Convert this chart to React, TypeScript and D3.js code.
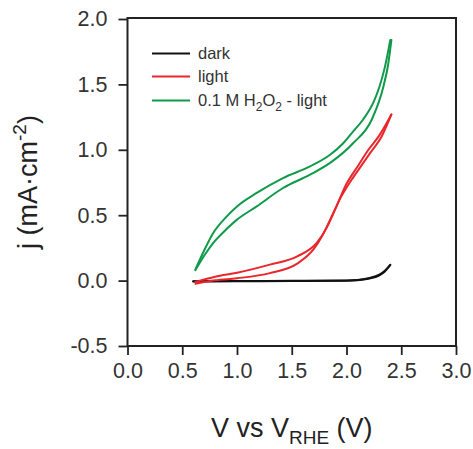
import * as d3 from 'd3';
import React, { useEffect, useRef } from 'react';

// each scan split into its two branches, [V, j], V ascending
const darkForward = [
  [0.6, -0.005], [1.0, -0.003], [1.5, -0.002], [2.0, 0.0], [2.1, 0.004],
  [2.2, 0.018], [2.3, 0.045], [2.35, 0.075], [2.4, 0.12],
];
const darkReverse = [
  [0.6, -0.006], [1.0, -0.005], [1.5, -0.004], [2.0, -0.002], [2.1, 0.002],
  [2.2, 0.014], [2.3, 0.04], [2.35, 0.07], [2.4, 0.12],
];

const lightForward = [
  [0.62, -0.025], [0.8, 0.002], [1.0, 0.018], [1.3, 0.057], [1.55, 0.13],
  [1.7, 0.24], [1.79, 0.36], [1.87, 0.5], [1.95, 0.64], [2.03, 0.75],
  [2.12, 0.86], [2.22, 0.98], [2.32, 1.1], [2.41, 1.27],
];
const lightReverse = [
  [0.62, -0.01], [0.8, 0.03], [1.0, 0.06], [1.3, 0.122], [1.55, 0.185],
  [1.73, 0.29], [1.82, 0.405], [1.91, 0.57], [2.0, 0.74], [2.1, 0.87],
  [2.2, 1.0], [2.3, 1.11], [2.41, 1.27],
];

const peroxideForward = [
  [0.62, 0.08], [0.7, 0.19], [0.78, 0.285], [0.9, 0.39], [1.0, 0.466],
  [1.18, 0.567], [1.42, 0.708], [1.667, 0.81], [1.85, 0.9], [2.06, 1.05],
  [2.23, 1.23], [2.336, 1.48], [2.38, 1.65], [2.41, 1.84],
];
const peroxideReverse = [
  [0.62, 0.085], [0.7, 0.23], [0.78, 0.36], [0.9, 0.485], [1.0, 0.567],
  [1.18, 0.67], [1.42, 0.784], [1.667, 0.873], [1.85, 0.962], [1.97, 1.05],
  [2.05, 1.13], [2.15, 1.23], [2.25, 1.37], [2.3, 1.48], [2.35, 1.63],
  [2.4, 1.84],
];

const xTicks = [0, 0.5, 1.0, 1.5, 2.0, 2.5, 3.0];
const yTicks = [-0.5, 0, 0.5, 1.0, 1.5, 2.0];

const seriesNames = ['dark', 'light', 'peroxide'];
const seriesColors = ['#111111', '#e8262b', '#0f9a4a'];

const width = 473;
const height = 449;
const margin = { top: 18, right: 17, bottom: 103, left: 127.5 };
const font = 'Arial, "Liberation Sans", sans-serif';

export default function App() {
  const ref = useRef<SVGSVGElement>(null);

  useEffect(() => {
    const svg = d3.select(ref.current);
    svg.selectAll('*').remove();

    const x = d3.scaleLinear().domain([0, 3]).range([margin.left, width - margin.right]);
    const y = d3.scaleLinear().domain([-0.5, 2.0]).range([height - margin.bottom, margin.top + 1]);

    const line = d3
      .line<number[]>()
      .x(d => x(d[0]))
      .y(d => y(d[1]))
      .curve(d3.curveMonotoneX);

    const branches = [
      [darkForward, darkReverse],
      [lightForward, lightReverse],
      [peroxideForward, peroxideReverse],
    ];
    branches.forEach((pair, i) => {
      pair.forEach(branch => {
        svg
          .append('path')
          .attr('d', line(branch))
          .attr('fill', 'none')
          .attr('stroke', seriesColors[i])
          .attr('stroke-width', 2)
          .attr('stroke-linecap', 'round')
          .attr('class', 'scan-' + seriesNames[i]);
      });
    });

    // frame
    svg
      .append('rect')
      .attr('x', margin.left)
      .attr('y', margin.top)
      .attr('width', width - margin.right - margin.left)
      .attr('height', height - margin.bottom - margin.top)
      .attr('fill', 'none')
      .attr('stroke', '#222')
      .attr('stroke-width', 2);

    const fmt = (d: d3.NumberValue) => d3.format('.1f')(d).replace('−', '-');

    const xAxis = svg
      .append('g')
      .attr('transform', 'translate(0,' + (height - margin.bottom) + ')')
      .call(
        d3
          .axisBottom(x)
          .tickValues(xTicks)
          .tickSize(9)
          .tickSizeOuter(0)
          .tickPadding(8)
          .tickFormat(fmt)
      );
    const yAxis = svg
      .append('g')
      .attr('transform', 'translate(' + margin.left + ',0)')
      .call(
        d3
          .axisLeft(y)
          .tickValues(yTicks)
          .tickSize(9)
          .tickSizeOuter(0)
          .tickPadding(11)
          .tickFormat(fmt)
      );

    [xAxis, yAxis].forEach(ax => {
      ax.select('.domain').remove();
      ax.selectAll('line').attr('stroke', '#222').attr('stroke-width', 1.8);
      ax.selectAll('text')
        .attr('font-family', font)
        .attr('font-size', 21.5)
        .attr('fill', '#333');
    });

    // axis titles
    const xTitle = svg
      .append('text')
      .attr('x', (margin.left + width - margin.right) / 2)
      .attr('y', 437)
      .attr('text-anchor', 'middle')
      .attr('font-family', font)
      .attr('font-size', 27)
      .attr('fill', '#222');
    xTitle.append('tspan').text('V vs V');
    xTitle.append('tspan').attr('font-size', 19).attr('dy', 7).text('RHE');
    xTitle.append('tspan').attr('dy', -7).text(' (V)');

    const yTitle = svg
      .append('text')
      .attr('transform', 'translate(37,' + (margin.top + height - margin.bottom) / 2 + ') rotate(-90)')
      .attr('text-anchor', 'middle')
      .attr('font-family', font)
      .attr('font-size', 27)
      .attr('fill', '#222');
    yTitle.append('tspan').text('j (mA·cm');
    yTitle.append('tspan').attr('font-size', 19).attr('dy', -11).text('-2');
    yTitle.append('tspan').attr('dy', 11).text(')');

    // legend
    const legend = svg.append('g').attr('class', 'legends');
    const rowY = [53.5, 76.5, 100.5];
    seriesNames.forEach((name, i) => {
      legend
        .append('line')
        .attr('x1', 152)
        .attr('x2', 190)
        .attr('y1', rowY[i])
        .attr('y2', rowY[i])
        .attr('stroke', seriesColors[i])
        .attr('stroke-width', 2);
      const t = legend
        .append('text')
        .attr('x', 198)
        .attr('y', rowY[i] + 5.5)
        .attr('font-family', font)
        .attr('font-size', 16.5)
        .attr('fill', '#333');
      if (name === 'peroxide') {
        t.append('tspan').text('0.1 M H');
        t.append('tspan').attr('font-size', 12).attr('dy', 5).text('2');
        t.append('tspan').attr('dy', -5).text('O');
        t.append('tspan').attr('font-size', 12).attr('dy', 5).text('2');
        t.append('tspan').attr('dy', -5).text(' - light');
      } else {
        t.text(name);
      }
    });
  }, []);

  return (
    <svg
      ref={ref}
      width={width}
      height={height}
      style={{ position: 'absolute', left: 0, top: 0, background: '#fff' }}
    />
  );
}
